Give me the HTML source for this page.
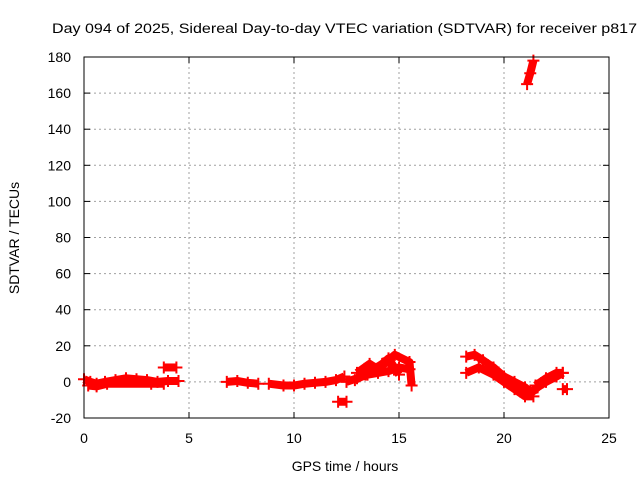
<!DOCTYPE html>
<html><head><meta charset="utf-8"><style>
body{margin:0;background:#fff;}
svg{display:block;font-family:"Liberation Sans",sans-serif;}
</style></head><body>
<svg id="chart" width="640" height="480">
<text x="52" y="33" font-size="13.5" textLength="585" lengthAdjust="spacingAndGlyphs">Day 094 of 2025, Sidereal Day-to-day VTEC variation (SDTVAR) for receiver p817</text>
<text x="345" y="471" font-size="14" text-anchor="middle">GPS time / hours</text>
<text x="19" y="238" font-size="14" text-anchor="middle" transform="rotate(-90 19 238)">SDTVAR / TECUs</text>
<g id="grid"></g><g id="data"></g>
<rect x="84" y="57" width="525" height="361" fill="none" stroke="#000" stroke-width="1"/>
</svg>
<script>
const xTicks=[0,5,10,15,20,25];
const yTicks=[-20,0,20,40,60,80,100,120,140,160,180];
const s1Hours=[0,0.3,0.6,1,1.5,2,2.5,3,3.5,4,4.5];
const s1Vals=[1.5,0,-1,0,1,2,1.5,1,0,0.5,0.5];
const s1bHours=[0.2,0.6,1.1,3.2,3.8];
const s1bVals=[-2,-2.5,-1,-1,-1];
const s2Hours=[3.8,4.4];const s2Vals=[8,8];
const s3Hours=[6.8,7.3,7.8,8.3];const s3Vals=[0,0.5,-0.5,-1];
const s4Hours=[8.8,9.5,10,10.5,11,11.5,12,12.4];const s4Vals=[-1,-2,-2,-1,-0.5,0,1,3];
const s5Hours=[12.1,12.5];const s5Vals=[-11,-11];
const s6Hours=[12.5,13,13.5,14,14.5,15,15.5];const s6Vals=[0,2,4,5,6,8,7];
const s6bHours=[13,13.6,14,14.8,15.5,15.6];const s6bVals=[5,10,7,15,11,-2];
const s6cHours=[12.9,13.4,14.2,14.5,15.0];const s6cVals=[1,4,10,13,4];
const s7Hours=[18.2,18.6,19,19.5,20,20.5,21,21.3,21.6,22,22.5,22.8];const s7Vals=[14,15,12,8,3,0,-3,-6,-3,0,3,5];
const s7bHours=[18.2,18.8,19.5,20,20.5,21,21.4];const s7bVals=[5,8,4,0,-4,-8,-8];
const s7cHours=[21.5,22,22.5,22.8];const s7cVals=[-2,2,5,5];
const s8Hours=[22.8,23.0];const s8Vals=[-4,-4];
const s9Hours=[21.1,21.25,21.4];const s9Vals=[165,171,178];
const series=[[s1Hours,s1Vals],[s1bHours,s1bVals],[s2Hours,s2Vals],[s3Hours,s3Vals],[s4Hours,s4Vals],[s5Hours,s5Vals],[s6Hours,s6Vals],[s6bHours,s6bVals],[s6cHours,s6cVals],[s7Hours,s7Vals],[s7bHours,s7bVals],[s7cHours,s7cVals],[s8Hours,s8Vals],[s9Hours,s9Vals]];
const NS="http://www.w3.org/2000/svg";
const X=h=>84+h/25*525, Y=v=>418-(v+20)/200*361;
const g=document.getElementById('grid'), d=document.getElementById('data');
function mk(tag,attrs,parent){const e=document.createElementNS(NS,tag);for(const k in attrs)e.setAttribute(k,attrs[k]);parent.appendChild(e);return e;}
xTicks.forEach(t=>{const x=X(t);
 if(t>0&&t<25){const l=mk('line',{x1:x,x2:x,y1:57,y2:418,stroke:'#a0a0a0','stroke-dasharray':'2,3'},g);}
 mk('line',{x1:x,x2:x,y1:418,y2:412,stroke:'#000'},g);mk('line',{x1:x,x2:x,y1:57,y2:63,stroke:'#000'},g);
 const tx=mk('text',{x:x,y:443,'font-size':14,'text-anchor':'middle'},g);tx.textContent=t;
 });
yTicks.forEach(t=>{const y=Y(t);
 if(t>-20&&t<180){const l=mk('line',{x1:84,x2:609,y1:y,y2:y,stroke:'#a0a0a0','stroke-dasharray':'2,3'},g);}
 mk('line',{x1:84,x2:90,y1:y,y2:y,stroke:'#000'},g);mk('line',{x1:609,x2:603,y1:y,y2:y,stroke:'#000'},g);
 const tx=mk('text',{x:71,y:y+5,'font-size':14,'text-anchor':'end'},g);tx.textContent=t;
 });
series.forEach(([hs,vs])=>{
 const pts=hs.map((h,i)=>X(h)+','+Y(vs[i])).join(' ');
 const pl=mk('polyline',{points:pts,fill:'none',stroke:'#f00','stroke-width':8,'stroke-linejoin':'round'},d);
 
 hs.forEach((h,i)=>{const x=X(h),y=Y(vs[i]);
  const p=mk('path',{d:`M${x-6},${y}H${x+6}M${x},${y-6}V${y+6}`,stroke:'#f00','stroke-width':2},d);
  });
});
</script>
</body></html>
